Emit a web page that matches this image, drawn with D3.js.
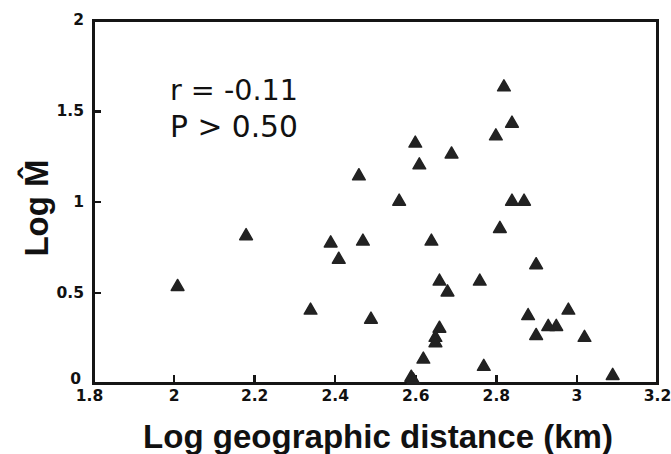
<!DOCTYPE html>
<html><head><meta charset="utf-8">
<script src="https://cdn.jsdelivr.net/npm/d3@7"></script>
<style>body{margin:0;background:#fff}svg{display:block}</style>
</head><body>
<svg id="c" width="671" height="454" viewBox="0 0 671 454"></svg>
<script>
const xValues = [2.01,2.18,2.34,2.39,2.41,2.46,2.47,2.49,2.56,2.59,2.595,2.60,2.61,2.62,2.64,2.65,2.65,2.66,2.66,2.68,2.69,2.76,2.77,2.80,2.81,2.82,2.84,2.84,2.87,2.88,2.90,2.90,2.93,2.95,2.98,3.02,3.09];
const yValues = [0.53,0.81,0.40,0.77,0.68,1.14,0.78,0.35,1.00,0.03,0.015,1.32,1.20,0.13,0.78,0.25,0.22,0.30,0.56,0.50,1.26,0.56,0.09,1.36,0.85,1.63,1.00,1.43,1.00,0.37,0.65,0.26,0.31,0.31,0.40,0.25,0.04];
const xTicks = [1.8,2,2.2,2.4,2.6,2.8,3,3.2];
const yTicks = [0,0.5,1,1.5,2];
const xLabel = "Log geographic distance (km)";
const yLabel = "Log M\u0302";
const annotations = ["r = -0.11","P > 0.50"];

const svg = d3.select("#c");
const L=93, R=657, T=20, B=383;
const x = d3.scaleLinear().domain([1.8,3.2]).range([L,R]);
const y = d3.scaleLinear().domain([0,2]).range([B,T]);
const tickFont = "'DejaVu Sans', sans-serif";
const titleFont = "'Liberation Sans', Arial, sans-serif";
const ink = "#151515";

function fitWidth(sel, target){
  const w = sel.node().getComputedTextLength();
  const fs = parseFloat(sel.attr("font-size"));
  if (w > 0) sel.attr("font-size", fs*target/w);
}

// frame
svg.append("rect").attr("class","frame")
  .attr("x",L).attr("y",T).attr("width",R-L).attr("height",B-T)
  .attr("fill","none").attr("stroke",ink).attr("stroke-width",3)
  .attr("shape-rendering","crispEdges");

// x axis
const xa = svg.append("g").attr("class","xaxis").attr("transform",`translate(0,${B})`)
  .call(d3.axisBottom(x).tickValues(xTicks).tickSizeInner(-8).tickSizeOuter(0).tickPadding(0).tickFormat(d3.format("")));
xa.select(".domain").attr("stroke",ink).attr("stroke-width",3).attr("shape-rendering","crispEdges");
xa.selectAll(".tick line").attr("stroke",ink).attr("stroke-width",2.5).attr("shape-rendering","crispEdges");
xa.selectAll(".tick").filter(d=>d===1.8||d===3.2).select("line").remove();
xa.selectAll("text").attr("font-family",tickFont).attr("font-weight","bold").attr("font-size",15.5).attr("fill","#111")
  .attr("dy","0.35em").attr("y",13);
xa.selectAll(".tick").filter(d=>d===1.8).select("text").attr("x",-4);

// y axis
const ya = svg.append("g").attr("class","yaxis").attr("transform",`translate(${L},0)`)
  .call(d3.axisLeft(y).tickValues(yTicks).tickSizeInner(-8).tickSizeOuter(0).tickPadding(0).tickFormat(d3.format("")));
ya.select(".domain").attr("stroke",ink).attr("stroke-width",3).attr("shape-rendering","crispEdges");
ya.selectAll(".tick line").attr("stroke",ink).attr("stroke-width",2.5).attr("shape-rendering","crispEdges");
ya.selectAll(".tick").filter(d=>d===0||d===2).select("line").remove();
ya.selectAll("text").attr("font-family",tickFont).attr("font-weight","bold").attr("font-size",15.5).attr("fill","#111").attr("x",-9);
ya.selectAll(".tick").filter(d=>d===0).select("text").attr("dy","0.05em").attr("x",-12);

// points
svg.append("g").selectAll("path").data(xValues.map((v,i)=>[v,yValues[i]])).join("path")
  .attr("d", d3.symbol(d3.symbolTriangle, 70))
  .attr("transform", d=>`translate(${x(d[0])},${y(d[1])})`)
  .attr("fill","#222").attr("stroke","#222").attr("stroke-width",1.5).attr("stroke-linejoin","round");

// annotation
const ann = svg.append("g").selectAll("text").data(annotations).join("text")
  .attr("x",170).attr("y",(d,i)=>100+i*37)
  .attr("font-family",tickFont).attr("font-size",24).attr("fill","#111")
  .style("white-space","pre").attr("xml:space","preserve").text(d=>d);
ann.each(function(){ fitWidth(d3.select(this), 128); });

// axis titles
const xt = svg.append("text").attr("x",378).attr("y",448).attr("text-anchor","middle")
  .attr("font-family",titleFont).attr("font-size",33).attr("font-weight","bold").attr("fill","#111").text(xLabel);
fitWidth(xt, 470);
svg.append("text").attr("transform","translate(48,208) rotate(-90)").attr("text-anchor","middle")
  .attr("font-family",titleFont).attr("font-size",33).attr("font-weight","bold").attr("fill","#111").text(yLabel);
</script>
</body></html>
